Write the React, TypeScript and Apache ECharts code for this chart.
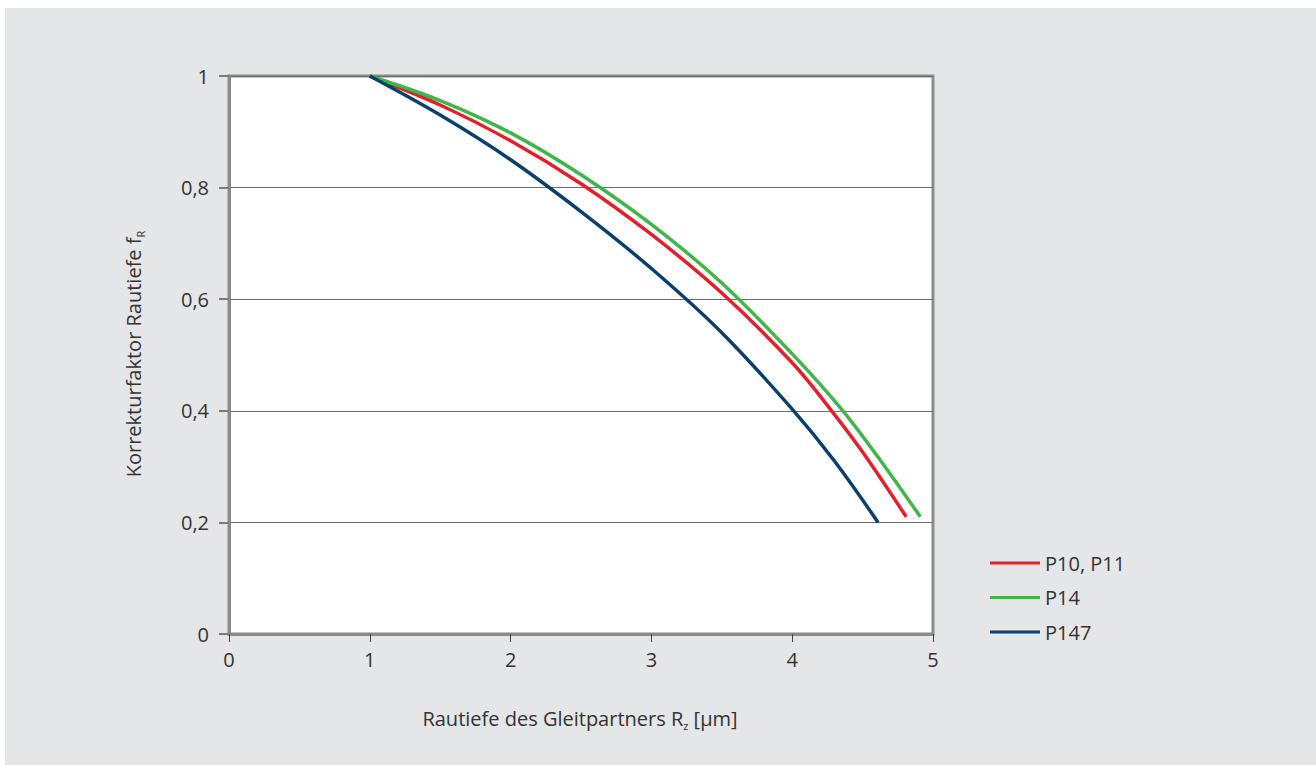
import React, { useEffect, useRef } from "react";
import * as echarts from "echarts";

const seriesNames = ["P10, P11", "P14", "P147"];
const seriesColors = ["#e1202b", "#3fb54a", "#0a3f6e"];

const p10x = [1, 1.5, 2, 2.5, 3, 3.5, 4, 4.28, 4.5, 4.81];
const p10y = [1, 0.948, 0.884, 0.807, 0.716, 0.611, 0.486, 0.4, 0.326, 0.21];

const p14x = [1, 1.5, 2, 2.5, 3, 3.5, 4, 4.36, 4.65, 4.91];
const p14y = [1, 0.956, 0.898, 0.823, 0.734, 0.629, 0.502, 0.4, 0.303, 0.21];

const p147x = [1, 1.5, 2, 2.5, 3, 3.5, 4, 4.3, 4.61];
const p147y = [1, 0.93, 0.85, 0.757, 0.655, 0.54, 0.403, 0.31, 0.2];

const xTicks = [0, 1, 2, 3, 4, 5];
const yTicks = [0, 0.2, 0.4, 0.6, 0.8, 1];

const xTitle = "Rautiefe des Gleitpartners R";
const xTitleSub = "z";
const xTitleEnd = " [µm]";
const yTitle = "Korrekturfaktor Rautiefe f";
const yTitleSub = "R";

const FONT = "'Open Sans', 'Noto Sans', sans-serif";
const FS = 20;

export default function App() {
  const ref = useRef<HTMLDivElement>(null);

  useEffect(() => {
    if (!ref.current) return;
    const chart = echarts.init(ref.current, undefined, { renderer: "svg" });
    const xs = [p10x, p14x, p147x];
    const ys = [p10y, p14y, p147y];
    const series = seriesNames.map((name, i) => ({
      name,
      type: "line",
      data: xs[i].map((x, j) => [x, ys[i][j]]),
      smooth: 0.35,
      symbol: "none",
      lineStyle: { color: seriesColors[i], width: 3.5 },
      itemStyle: { color: seriesColors[i] },
      z: 5,
    }));
    chart.setOption({
      animation: false,
      backgroundColor: "transparent",
      textStyle: { fontFamily: FONT },
      grid: {
        left: 229,
        top: 76,
        width: 704,
        height: 558,
        show: true,
        backgroundColor: "#ffffff",
        borderColor: "#8b8b8b",
        borderWidth: 3,
      },
      xAxis: {
        type: "value",
        min: xTicks[0],
        max: xTicks[xTicks.length - 1],
        interval: 1,
        axisLine: { show: true, lineStyle: { color: "#8b8b8b", width: 3 } },
        axisTick: { show: true, length: 8, lineStyle: { color: "#444", width: 1 } },
        axisLabel: { margin: 15, color: "#333", fontSize: FS, fontFamily: FONT },
        splitLine: { show: false },
      },
      yAxis: {
        type: "value",
        min: yTicks[0],
        max: yTicks[yTicks.length - 1],
        interval: 0.2,
        axisLine: { show: true, lineStyle: { color: "#8b8b8b", width: 3 } },
        axisTick: { show: true, length: 10, lineStyle: { color: "#7a7a7a", width: 2 } },
        axisLabel: {
          margin: 20,
          color: "#333",
          fontSize: FS,
          fontFamily: FONT,
          formatter: (v: number) => String(Math.round(v * 10) / 10).replace(".", ","),
        },
        splitLine: { show: true, lineStyle: { color: "#6f6f6f", width: 1 } },
      },
      legend: {
        orient: "vertical",
        left: 990,
        top: 551,
        padding: 0,
        icon: "rect",
        itemWidth: 50,
        itemHeight: 3,
        itemGap: 10.5,
        textStyle: { color: "#333", fontSize: FS, fontFamily: FONT, lineHeight: 24 },
        data: seriesNames,
      },
      graphic: [
        {
          type: "text",
          x: 580,
          y: 718,
          style: {
            text: `{a|${xTitle}}{s|${xTitleSub}}{a|${xTitleEnd}}`,
            align: "center",
            verticalAlign: "middle",
            rich: {
              a: { fontSize: FS, fontFamily: FONT, fill: "#333", lineHeight: 26 },
              s: { fontSize: 11, fontFamily: FONT, fill: "#333", lineHeight: 11, verticalAlign: "bottom" },
            },
          },
        },
        {
          type: "text",
          x: 133,
          y: 354,
          rotation: Math.PI / 2,
          style: {
            text: `{a|${yTitle}}{s|${yTitleSub}}`,
            align: "center",
            verticalAlign: "middle",
            rich: {
              a: { fontSize: FS, fontFamily: FONT, fill: "#333", lineHeight: 26 },
              s: { fontSize: 11, fontFamily: FONT, fill: "#333", lineHeight: 11, verticalAlign: "bottom" },
            },
          },
        },
      ],
      series,
    });
    return () => chart.dispose();
  }, []);

  return (
    <>
      <div
        style={{
          position: "absolute",
          left: 5,
          top: 8,
          width: 1311,
          height: 757,
          background: "#e5e6e8",
        }}
      />
      <div
        ref={ref}
        style={{ position: "absolute", left: 0, top: 0, width: 1316, height: 765 }}
      />
    </>
  );
}
